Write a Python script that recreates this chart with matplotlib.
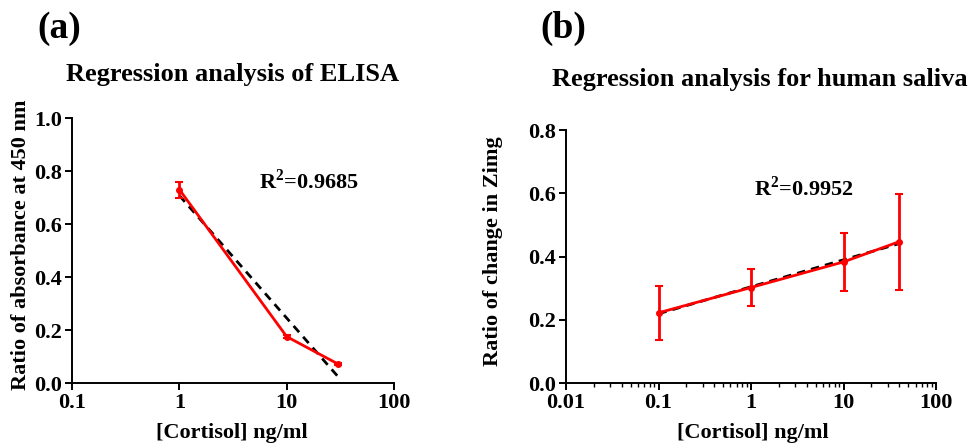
import numpy as np
import matplotlib
matplotlib.use("Agg")
import matplotlib.pyplot as plt
from matplotlib.ticker import FixedLocator, NullFormatter, LogLocator

plt.rcParams['font.family'] = ['Liberation Serif', 'DejaVu Serif']
plt.rcParams['font.weight'] = 'bold'
plt.rcParams['mathtext.fontset'] = 'custom'
plt.rcParams['mathtext.rm'] = 'Liberation Serif:bold'
plt.rcParams['mathtext.bf'] = 'Liberation Serif:bold'

# (a) ELISA
elisa_conc = [1, 10, 30]
elisa_ratio = [0.73, 0.175, 0.072]
elisa_err = [0.03, 0.005, 0.005]
elisa_r2 = "0.9685"

# (b) human saliva
saliva_conc = [0.1, 1, 10, 40]
saliva_ratio = [0.222, 0.302, 0.383, 0.447]
saliva_err = [0.085, 0.06, 0.092, 0.152]
saliva_r2 = "0.9952"

fig = plt.figure(figsize=(9.71, 4.45), dpi=100)

def style_axes(ax):
    for side in ("top", "right"):
        ax.spines[side].set_visible(False)
    for side in ("left", "bottom"):
        ax.spines[side].set_linewidth(1.4)
    ax.tick_params(axis="both", which="major", direction="out", length=5, width=1.4,
                   labelsize=16, pad=2)
    ax.tick_params(axis="both", which="minor", direction="out", length=3, width=1.0)
    for lab in ax.get_xticklabels() + ax.get_yticklabels():
        lab.set_fontweight("bold")

def draw_panel(ax, x, y, err, xmin, xmax, ymax):
    x = np.array(x, dtype=float)
    y = np.array(y, dtype=float)
    # log-linear regression line
    b, a = np.polyfit(np.log10(x), y, 1)
    xf = np.array([x.min(), x.max()])
    ax.plot(xf, a + b * np.log10(xf), color="black", lw=2, ls=(0, (3, 2.2)), zorder=3)
    ax.errorbar(x, y, yerr=err, color="red", lw=2, marker="o", ms=4,
                elinewidth=2, capsize=3, capthick=1.5, zorder=4)
    ax.set_xscale("log")
    ax.set_xlim(xmin, xmax)
    ax.set_ylim(0, ymax)
    ax.set_yticks(np.arange(0, ymax + 0.01, 0.2))
    ax.yaxis.set_major_formatter(plt.FuncFormatter(lambda v, p: f"{v:.1f}"))
    ax.xaxis.set_major_formatter(plt.FuncFormatter(lambda v, p: f"{v:g}"))
    style_axes(ax)

# panel (a)
ax1 = fig.add_axes([0.0742, 0.1393, 0.3316, 0.5955])
draw_panel(ax1, elisa_conc, elisa_ratio, elisa_err, 0.1, 100, 1.0)
ax1.xaxis.set_minor_locator(FixedLocator([]))
ax1.text(0.58, 0.76, r"R$^{\mathbf{2}}$=" + elisa_r2, transform=ax1.transAxes,
         fontsize=16, fontweight="bold", ha="left", va="center")

# panel (b)
ax2 = fig.add_axes([0.5829, 0.1393, 0.3811, 0.5685])
draw_panel(ax2, saliva_conc, saliva_ratio, saliva_err, 0.01, 100, 0.8)
ax2.xaxis.set_minor_locator(LogLocator(base=10, subs=np.arange(2, 10)))
ax2.xaxis.set_minor_formatter(NullFormatter())
ax2.text(0.508, 0.77, r"R$^{\mathbf{2}}$=" + saliva_r2, transform=ax2.transAxes,
         fontsize=16, fontweight="bold", ha="left", va="center")

# titles and labels
fig.text(0.039, 0.935, "(a)", fontsize=27, fontweight="bold", ha="left", va="center")
fig.text(0.557, 0.935, "(b)", fontsize=27, fontweight="bold", ha="left", va="center")
fig.text(0.239, 0.832, "Regression analysis of ELISA", fontsize=19, fontweight="bold",
         ha="center", va="center")
fig.text(0.783, 0.822, "Regression analysis for human saliva", fontsize=19,
         fontweight="bold", ha="center", va="center")
fig.text(0.239, 0.027, "[Cortisol] ng/ml", fontsize=16, fontweight="bold",
         ha="center", va="center")
fig.text(0.775, 0.027, "[Cortisol] ng/ml", fontsize=16, fontweight="bold",
         ha="center", va="center")
fig.text(0.022, 0.449, "Ratio of absorbance at 450 nm", fontsize=16, fontweight="bold",
         rotation=90, ha="center", va="center")
fig.text(0.508, 0.436, "Ratio of change in Zimg", fontsize=16, fontweight="bold",
         rotation=90, ha="center", va="center")

fig.savefig("out.png", dpi=100)
